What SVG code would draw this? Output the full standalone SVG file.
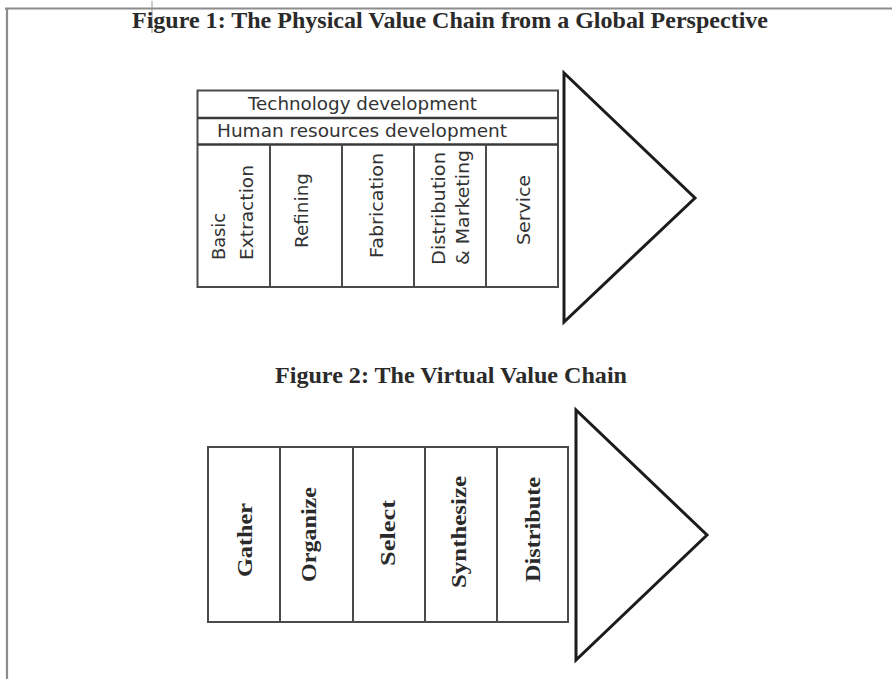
<svg xmlns="http://www.w3.org/2000/svg" width="892" height="679" viewBox="0 0 892 679">
  <style>
    .page { stroke: #8c8c8c; stroke-width: 2.2; fill: none; }
    .title { font-family: "Liberation Serif", "Times New Roman", serif; font-weight: bold; font-size: 23px; fill: #2a2a2a; }
    .box { fill: #ffffff; stroke: #4a4a4a; stroke-width: 2; }
    .div { stroke: #4a4a4a; stroke-width: 2; }
    .thick { stroke: #3a3a3a; stroke-width: 2.6; }
    .arrow { fill: #ffffff; stroke: #1c1c1c; stroke-width: 3; stroke-linejoin: miter; }
    .mac { font-family: "DejaVu Sans", "Liberation Sans", sans-serif; font-size: 18px; fill: #333333; }
    .serif { font-family: "Liberation Serif", "Times New Roman", serif; font-weight: bold; font-size: 22px; fill: #2a2a2a; }
  </style>
  <rect width="892" height="679" fill="#ffffff"/>
  <g id="page-frame">
    <line class="page" x1="5" y1="8.5" x2="892" y2="8.5"/>
    <line class="page" x1="7" y1="8" x2="7" y2="679"/>
    <line x1="152" y1="1" x2="152" y2="33" stroke="#9a9a9a" stroke-width="1"/>
  </g>

  <g id="title1">
    <text class="title" x="132" y="28" textLength="636" lengthAdjust="spacingAndGlyphs">Figure 1: The Physical Value Chain from a Global Perspective</text>
  </g>

  <g id="physical-chain">
    <g id="physical-arrow">
      <polygon class="arrow" points="564,73 564,322 695,198"/>
    </g>
    <g id="physical-frame">
      <rect class="box" x="197.5" y="90.5" width="360.5" height="196.5"/>
      <line class="thick" x1="197.5" y1="118" x2="558" y2="118"/>
      <line class="thick" x1="197.5" y1="144.5" x2="558" y2="144.5"/>
    </g>
    <g id="technology-development">
      <text class="mac" x="248" y="110" textLength="229" lengthAdjust="spacingAndGlyphs">Technology development</text>
    </g>
    <g id="human-resources-development">
      <text class="mac" x="217" y="137" textLength="290" lengthAdjust="spacingAndGlyphs">Human resources development</text>
    </g>
    <g id="basic-extraction">
      <text class="mac" transform="translate(225,260) rotate(-90)" textLength="47" lengthAdjust="spacingAndGlyphs">Basic</text>
      <text class="mac" transform="translate(253,260) rotate(-90)" textLength="95" lengthAdjust="spacingAndGlyphs">Extraction</text>
    </g>
    <g id="refining">
      <line class="div" x1="270" y1="144.5" x2="270" y2="287"/>
      <text class="mac" transform="translate(308,248) rotate(-90)" textLength="75" lengthAdjust="spacingAndGlyphs">Refining</text>
    </g>
    <g id="fabrication">
      <line class="div" x1="342" y1="144.5" x2="342" y2="287"/>
      <text class="mac" transform="translate(383,258) rotate(-90)" textLength="105" lengthAdjust="spacingAndGlyphs">Fabrication</text>
    </g>
    <g id="distribution-marketing">
      <line class="div" x1="414" y1="144.5" x2="414" y2="287"/>
      <text class="mac" transform="translate(445,265) rotate(-90)" textLength="113" lengthAdjust="spacingAndGlyphs">Distribution</text>
      <text class="mac" transform="translate(469,265) rotate(-90)" textLength="115" lengthAdjust="spacingAndGlyphs">&amp; Marketing</text>
    </g>
    <g id="service">
      <line class="div" x1="486" y1="144.5" x2="486" y2="287"/>
      <text class="mac" transform="translate(530,245) rotate(-90)" textLength="70" lengthAdjust="spacingAndGlyphs">Service</text>
    </g>
  </g>

  <g id="title2">
    <text class="title" x="275" y="383" textLength="352" lengthAdjust="spacingAndGlyphs">Figure 2: The Virtual Value Chain</text>
  </g>

  <g id="virtual-chain">
    <g id="virtual-arrow">
      <polygon class="arrow" points="576,410 576,660 707,535"/>
    </g>
    <g id="virtual-frame">
      <rect class="box" x="208" y="447" width="360" height="175"/>
    </g>
    <g id="gather">
      <text class="serif" transform="translate(252,577) rotate(-90)" textLength="74" lengthAdjust="spacingAndGlyphs">Gather</text>
    </g>
    <g id="organize">
      <line class="div" x1="280" y1="447" x2="280" y2="622"/>
      <text class="serif" transform="translate(316,582) rotate(-90)" textLength="95" lengthAdjust="spacingAndGlyphs">Organize</text>
    </g>
    <g id="select">
      <line class="div" x1="353" y1="447" x2="353" y2="622"/>
      <text class="serif" transform="translate(395,566) rotate(-90)" textLength="66" lengthAdjust="spacingAndGlyphs">Select</text>
    </g>
    <g id="synthesize">
      <line class="div" x1="425" y1="447" x2="425" y2="622"/>
      <text class="serif" transform="translate(466,588) rotate(-90)" textLength="112" lengthAdjust="spacingAndGlyphs">Synthesize</text>
    </g>
    <g id="distribute">
      <line class="div" x1="497" y1="447" x2="497" y2="622"/>
      <text class="serif" transform="translate(540,582) rotate(-90)" textLength="105" lengthAdjust="spacingAndGlyphs">Distribute</text>
    </g>
  </g>

  <g id="connectors"/>
</svg>
